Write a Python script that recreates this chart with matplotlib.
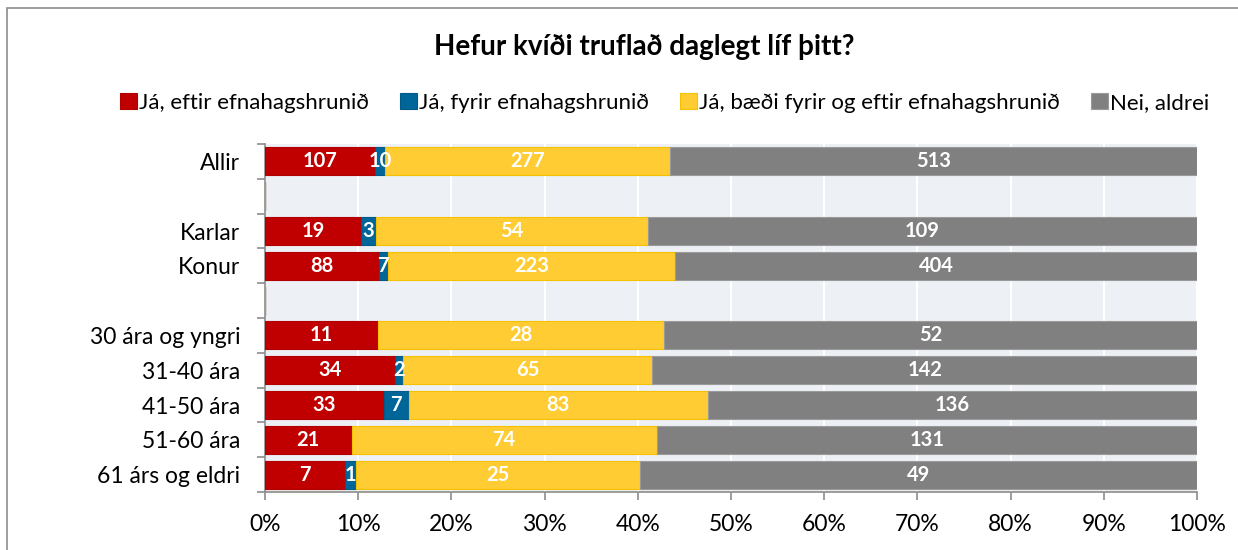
import matplotlib
matplotlib.use("Agg")
import matplotlib.pyplot as plt
import numpy as np
from matplotlib.patches import Rectangle

plt.rcParams['font.family'] = ['Lato', 'DejaVu Sans']

title = "Hefur kvíði truflað daglegt líf þitt?"
categories = ["Allir", "", "Karlar", "Konur", "", "30 ára og yngri", "31-40 ára",
              "41-50 ára", "51-60 ára", "61 árs og eldri"]
series_names = ["Já, eftir efnahagshrunið", "Já, fyrir efnahagshrunið",
                "Já, bæði fyrir og eftir efnahagshrunið", "Nei, aldrei"]
eftir = [107, 0, 19, 88, 0, 11, 34, 33, 21, 7]
fyrir = [10, 0, 3, 7, 0, 0, 2, 7, 0, 1]
baedi = [277, 0, 54, 223, 0, 28, 65, 83, 74, 25]
aldrei = [513, 0, 109, 404, 0, 52, 142, 136, 131, 49]
xticks = [0, 10, 20, 30, 40, 50, 60, 70, 80, 90, 100]

colors = ["#C00000", "#006699", "#FFCC33", "#808080"]
edges = ["#B00000", "#005A88", "#F5C000", "#9A9A9A"]

counts = np.array([eftir, fyrir, baedi, aldrei], dtype=float)
totals = counts.sum(axis=0)
shares = np.divide(counts, totals, out=np.zeros_like(counts), where=totals > 0) * 100

fig = plt.figure(figsize=(12.38, 5.5), dpi=100)
fig.patches.append(Rectangle((7 / 1238, -0.1), 1.2, 1 - 8 / 550 + 0.1,
                             transform=fig.transFigure, fill=False,
                             edgecolor="#8C8C8C", linewidth=1.2, zorder=0))

ax = fig.add_axes([265 / 1238, 1 - 492 / 550, 932 / 1238, (492 - 144) / 550])
ax.set_facecolor("#EDF0F5")

y = np.arange(len(categories))
left = np.zeros(len(categories))
for i in range(4):
    ax.barh(y, shares[i], left=left, height=0.8, color=colors[i],
            edgecolor=edges[i], linewidth=0.8, label=series_names[i], zorder=3)
    for j in range(len(categories)):
        if counts[i, j] > 0:
            ax.text(left[j] + shares[i, j] / 2, y[j], f"{int(counts[i, j])}",
                    ha="center", va="center", color="white", fontsize=14.5,
                    fontweight="bold", zorder=4)
    left += shares[i]

ax.set_xlim(0, 100)
ax.set_ylim(len(categories) - 0.5, -0.5)
ax.set_xticks(xticks)
ax.set_xticklabels([f"{t}%" for t in xticks], fontsize=16.5)
ax.set_yticks(y)
ax.set_yticklabels(categories, fontsize=16.5)
ax.tick_params(axis="y", length=0, pad=18)
ax.set_yticks(np.arange(-0.5, len(categories), 1), minor=True)
ax.tick_params(axis="y", which="minor", length=6, color="#8C8C8C", width=1.2)
ax.tick_params(axis="x", length=6, color="#8C8C8C", width=1.2, pad=10, direction="out")
ax.grid(axis="x", color="white", linewidth=1.5, zorder=1)
ax.set_axisbelow(True)
for s in ["top", "right"]:
    ax.spines[s].set_visible(False)
for s in ["left", "bottom"]:
    ax.spines[s].set_color("#8C8C8C")
    ax.spines[s].set_linewidth(1.2)

fig.text(0.52, 1 - 47 / 550, title, ha="center", va="center", fontsize=20,
         fontweight="bold")
fig.legend(loc="center", bbox_to_anchor=(0.537, 1 - 103 / 550), ncol=4,
           frameon=False, fontsize=16, handlelength=0.75, handleheight=0.75,
           handletextpad=0.1, columnspacing=1.4)

fig.savefig("out.png", dpi=100)
